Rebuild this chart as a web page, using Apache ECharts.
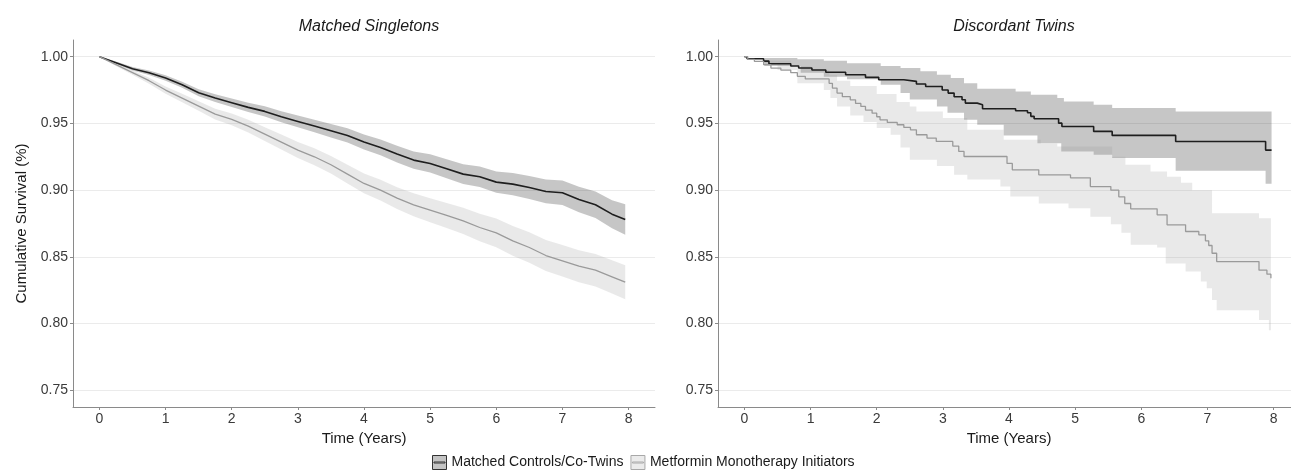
<!DOCTYPE html>
<html>
<head>
<meta charset="utf-8">
<script src="https://cdn.jsdelivr.net/npm/echarts@6/dist/echarts.min.js"></script>
<style>
html,body{margin:0;padding:0;background:#fff;overflow:hidden;width:1291px;height:472px;}
#chart{width:1302px;height:472px;}
</style>
</head>
<body>
<div id="chart"></div>
<script>
// ---------- tick labels ----------
const yearTicks = [0, 1, 2, 3, 4, 5, 6, 7, 8];
const survivalTicks = [0.75, 0.80, 0.85, 0.90, 0.95, 1.00];
const panelTitles = ['Matched Singletons', 'Discordant Twins'];
const groupNames = ['Matched Controls/Co-Twins', 'Metformin Monotherapy Initiators'];

// ---------- Matched singletons (fine-grained curves) ----------
const singletonTime = [0, 0.25, 0.5, 0.75, 1, 1.25, 1.5, 1.75, 2, 2.25, 2.5, 2.75, 3, 3.25, 3.5, 3.75, 4,
  4.25, 4.5, 4.75, 5, 5.25, 5.5, 5.75, 6, 6.25, 6.5, 6.75, 7, 7.25, 7.5, 7.75, 7.95];
const singletonControl = [1.000, 0.9955, 0.991, 0.988, 0.984, 0.979, 0.973, 0.969, 0.9655, 0.962, 0.959, 0.955,
  0.9515, 0.948, 0.9445, 0.941, 0.936, 0.932, 0.927, 0.9225, 0.920, 0.916, 0.912, 0.910, 0.906, 0.9045, 0.902,
  0.899, 0.898, 0.893, 0.889, 0.882, 0.878];
const singletonControlUpper = [1.000, 0.9963, 0.9923, 0.9897, 0.986, 0.9813, 0.9756, 0.9719, 0.9687, 0.9655, 0.9628,
  0.9591, 0.9559, 0.9527, 0.9495, 0.9463, 0.9416, 0.9379, 0.9332, 0.929, 0.9268, 0.9231, 0.9194, 0.9177, 0.914,
  0.9128, 0.9106, 0.9079, 0.9072, 0.9025, 0.8989, 0.8925, 0.8895];
const singletonControlLower = [1.000, 0.9947, 0.9897, 0.9863, 0.982, 0.9767, 0.9704, 0.9661, 0.9623, 0.9585, 0.9552,
  0.9509, 0.9471, 0.9433, 0.9395, 0.9357, 0.9304, 0.9261, 0.9208, 0.916, 0.9132, 0.9089, 0.9046, 0.9023, 0.898,
  0.8962, 0.8934, 0.8901, 0.8888, 0.8835, 0.8791, 0.8715, 0.8665];
const singletonMetformin = [1.000, 0.994, 0.988, 0.982, 0.975, 0.969, 0.963, 0.957, 0.953, 0.948, 0.942, 0.936,
  0.930, 0.925, 0.919, 0.912, 0.905, 0.900, 0.894, 0.889, 0.885, 0.881, 0.877, 0.872, 0.868, 0.862, 0.857,
  0.851, 0.847, 0.843, 0.840, 0.835, 0.831];
const singletonMetforminUpper = [1.000, 0.995, 0.9896, 0.9842, 0.9777, 0.9722, 0.9666, 0.961, 0.9574, 0.9528, 0.9472,
  0.9416, 0.936, 0.9313, 0.9256, 0.919, 0.9124, 0.9078, 0.9022, 0.8976, 0.894, 0.8904, 0.8868, 0.8823, 0.8788,
  0.8731, 0.8684, 0.8626, 0.8588, 0.855, 0.8522, 0.8474, 0.8438];
const singletonMetforminLower = [1.000, 0.993, 0.9864, 0.9798, 0.9723, 0.9658, 0.9594, 0.953, 0.9486, 0.9432, 0.9368,
  0.9304, 0.924, 0.9187, 0.9124, 0.905, 0.8976, 0.8922, 0.8858, 0.8804, 0.876, 0.8716, 0.8672, 0.8617, 0.8572,
  0.8509, 0.8456, 0.8394, 0.8352, 0.831, 0.8278, 0.8226, 0.8182];

// ---------- Discordant twins (Kaplan-Meier steps: [time, survival]) ----------
const twinControl = [[0, 1.0], [0.04, 0.9985], [0.29, 0.9967], [0.37, 0.9947], [0.7, 0.993], [0.82, 0.9915],
  [1.02, 0.990], [1.23, 0.9883], [1.53, 0.9865], [1.83, 0.9845], [2.03, 0.9827], [2.41, 0.9815], [2.6, 0.9795],
  [2.74, 0.9777], [2.99, 0.975], [3.08, 0.9727], [3.17, 0.970], [3.29, 0.9677], [3.34, 0.9652], [3.52, 0.964],
  [3.6, 0.961], [4.1, 0.9595], [4.28, 0.958], [4.33, 0.9553], [4.38, 0.9535], [4.75, 0.9502], [4.8, 0.9477],
  [5.28, 0.944], [5.56, 0.941], [6.52, 0.9365], [7.88, 0.930], [7.97, 0.930]];
const twinControlUpper = [[0, 1.0], [0.3, 0.999], [0.8, 0.998], [1.2, 0.997], [1.55, 0.995], [2.06, 0.993],
  [2.36, 0.9915], [2.66, 0.989], [2.91, 0.9865], [3.12, 0.984], [3.32, 0.980], [3.52, 0.976], [4.1, 0.974],
  [4.33, 0.9715], [4.73, 0.969], [4.83, 0.9665], [5.28, 0.964], [5.56, 0.9615], [6.52, 0.959], [7.97, 0.959]];
const twinControlLower = [[0, 1.0], [0.3, 0.993], [0.85, 0.988], [1.2, 0.985], [1.55, 0.983], [2.06, 0.979],
  [2.36, 0.9727], [2.5, 0.968], [2.91, 0.9627], [3.07, 0.958], [3.32, 0.9527], [3.52, 0.949], [3.92, 0.941],
  [4.43, 0.9352], [4.79, 0.929], [5.28, 0.9265], [5.56, 0.924], [6.52, 0.9145], [7.88, 0.9047], [7.97, 0.9047]];
const twinMetformin = [[0, 1.0], [0.05, 0.998], [0.15, 0.9965], [0.29, 0.994], [0.4, 0.9915], [0.55, 0.990],
  [0.7, 0.988], [0.8, 0.9853], [0.92, 0.9833], [1.28, 0.980], [1.33, 0.9765], [1.4, 0.9727], [1.48, 0.970],
  [1.6, 0.9677], [1.68, 0.965], [1.76, 0.9627], [1.83, 0.960], [1.93, 0.9577], [2.0, 0.955], [2.05, 0.9527],
  [2.16, 0.9507], [2.31, 0.949], [2.41, 0.947], [2.51, 0.9452], [2.6, 0.9415], [2.76, 0.939], [2.9, 0.9365],
  [3.15, 0.933], [3.24, 0.929], [3.32, 0.9252], [3.97, 0.920], [4.05, 0.9152], [4.45, 0.9115], [4.93, 0.9092],
  [5.23, 0.9027], [5.54, 0.900], [5.66, 0.895], [5.75, 0.890], [5.84, 0.886], [6.24, 0.8815], [6.39, 0.874],
  [6.67, 0.869], [6.87, 0.8665], [6.97, 0.862], [7.02, 0.8585], [7.07, 0.8527], [7.14, 0.8465], [7.78, 0.840],
  [7.9, 0.837], [7.96, 0.834]];
const twinMetforminUpper = [[0, 1.0], [0.3, 0.997], [0.7, 0.993], [1.0, 0.990], [1.28, 0.986], [1.4, 0.982],
  [1.6, 0.978], [2.0, 0.972], [2.3, 0.966], [2.5, 0.9627], [2.6, 0.959], [3.0, 0.954], [3.37, 0.9452],
  [3.92, 0.9377], [4.48, 0.935], [4.73, 0.9327], [5.56, 0.925], [5.76, 0.919], [6.14, 0.914], [6.39, 0.910],
  [6.6, 0.9055], [6.77, 0.900], [7.07, 0.8827], [7.78, 0.879], [7.96, 0.879]];
const twinMetforminLower = [[0, 1.0], [0.3, 0.995], [0.5, 0.990], [0.8, 0.980], [1.2, 0.975], [1.3, 0.969],
  [1.4, 0.9627], [1.6, 0.956], [1.8, 0.951], [2.0, 0.9465], [2.21, 0.9415], [2.36, 0.932], [2.5, 0.9227],
  [2.91, 0.918], [3.17, 0.9115], [3.37, 0.908], [3.87, 0.9027], [4.02, 0.8952], [4.45, 0.890], [4.9, 0.8865],
  [5.23, 0.880], [5.54, 0.8745], [5.7, 0.868], [5.84, 0.859], [6.24, 0.857], [6.37, 0.845], [6.67, 0.839],
  [6.9, 0.8315], [6.99, 0.8265], [7.07, 0.8177], [7.14, 0.810], [7.78, 0.8027], [7.93, 0.795], [7.96, 0.795]];

// ---------- styling ----------
const FONT = 'Liberation Sans, Arial, sans-serif';
const DARK_LINE = '#1e1e1e', LIGHT_LINE = '#9a9a9a';
const DARK_FILL = 'rgba(51,51,51,0.28)', LIGHT_FILL = 'rgba(153,153,153,0.22)';
const AXIS_GREY = '#8a8a8a';

function zipSeries(t, v) { return t.map((x, i) => [x, v[i]]); }

function bandRenderer(upper, lower, step, fill) {
  return function (params, api) {
    const pts = [];
    for (let i = 0; i < upper.length; i++) {
      pts.push(api.coord(upper[i]));
      if (step && i + 1 < upper.length) pts.push(api.coord([upper[i + 1][0], upper[i][1]]));
    }
    for (let i = lower.length - 1; i >= 0; i--) {
      pts.push(api.coord(lower[i]));
      if (step && i > 0) pts.push(api.coord([lower[i][0], lower[i - 1][1]]));
    }
    return { type: 'polygon', shape: { points: pts }, style: { fill: fill }, z2: 0 };
  };
}

const grids = [
  { left: 73, top: 40, width: 582, height: 367 },
  { left: 718, top: 40, width: 582, height: 367 }
];

function xAxisCfg(i) {
  return {
    gridIndex: i, type: 'value', min: -0.4, max: 8.4,
    name: 'Time (Years)', nameLocation: 'middle', nameGap: 22,
    nameTextStyle: { fontFamily: FONT, fontSize: 15, color: '#1a1a1a' },
    axisLine: { show: true, onZero: false, lineStyle: { color: AXIS_GREY, width: 1 } },
    axisTick: { show: true, length: 3, customValues: yearTicks, lineStyle: { color: AXIS_GREY } },
    axisLabel: { customValues: yearTicks, margin: 5, fontFamily: FONT, fontSize: 14, color: '#3a3a3a' },
    splitLine: { show: false }
  };
}
function yAxisCfg(i) {
  return {
    gridIndex: i, type: 'value', min: 0.7375, max: 1.0125,
    name: i === 0 ? 'Cumulative Survival (%)' : '', nameLocation: 'middle', nameGap: 44, nameRotate: 90,
    nameTextStyle: { fontFamily: FONT, fontSize: 15, color: '#1a1a1a' },
    axisLine: { show: true, onZero: false, lineStyle: { color: AXIS_GREY, width: 1 } },
    axisTick: { show: true, length: 3, customValues: survivalTicks, lineStyle: { color: AXIS_GREY } },
    axisLabel: { customValues: survivalTicks, margin: 5, fontFamily: FONT, fontSize: 14, color: '#3a3a3a',
      formatter: v => Number(v).toFixed(2) },
    splitLine: { show: true, lineStyle: { color: '#ebebeb', width: 1 } }
  };
}

const legendIcon = 'path://M0,0L14,0L14,14L0,14Z M1.5,7.5L12.5,7.5L12.5,6.5L1.5,6.5Z';

const option = {
  animation: false,
  backgroundColor: '#ffffff',
  title: [
    { text: panelTitles[0], left: 364, top: 14, textAlign: 'center',
      textStyle: { fontFamily: FONT, fontSize: 16, fontStyle: 'italic', fontWeight: 'normal', color: '#1a1a1a' } },
    { text: panelTitles[1], left: 1009, top: 14, textAlign: 'center',
      textStyle: { fontFamily: FONT, fontSize: 16, fontStyle: 'italic', fontWeight: 'normal', color: '#1a1a1a' } }
  ],
  legend: {
    top: 450, left: 427, itemWidth: 14, itemHeight: 14, itemGap: 7,
    textStyle: { fontFamily: FONT, fontSize: 14, color: '#1a1a1a' },
    data: [
      { name: groupNames[0], icon: legendIcon, itemStyle: { color: '#c4c4c4', borderColor: '#333333', borderWidth: 1 } },
      { name: groupNames[1], icon: legendIcon, itemStyle: { color: '#ebebeb', borderColor: '#a8a8a8', borderWidth: 1 } }
    ],
    selectedMode: false
  },
  grid: grids,
  xAxis: [xAxisCfg(0), xAxisCfg(1)],
  yAxis: [yAxisCfg(0), yAxisCfg(1)],
  series: [
    // left bands
    { type: 'custom', name: groupNames[0], xAxisIndex: 0, yAxisIndex: 0, data: [0], z: 1, silent: true,
      renderItem: bandRenderer(zipSeries(singletonTime, singletonControlUpper), zipSeries(singletonTime, singletonControlLower), false, DARK_FILL) },
    { type: 'custom', name: groupNames[1], xAxisIndex: 0, yAxisIndex: 0, data: [0], z: 1, silent: true,
      renderItem: bandRenderer(zipSeries(singletonTime, singletonMetforminUpper), zipSeries(singletonTime, singletonMetforminLower), false, LIGHT_FILL) },
    // right bands
    { type: 'custom', name: groupNames[0], xAxisIndex: 1, yAxisIndex: 1, data: [0], z: 1, silent: true,
      renderItem: bandRenderer(twinControlUpper, twinControlLower, true, DARK_FILL) },
    { type: 'custom', name: groupNames[1], xAxisIndex: 1, yAxisIndex: 1, data: [0], z: 1, silent: true,
      renderItem: bandRenderer(twinMetforminUpper, twinMetforminLower, true, LIGHT_FILL) },
    // left lines
    { type: 'line', name: groupNames[0], xAxisIndex: 0, yAxisIndex: 0, data: zipSeries(singletonTime, singletonControl),
      showSymbol: false, z: 3, lineStyle: { color: DARK_LINE, width: 1.6 }, itemStyle: { color: DARK_LINE } },
    { type: 'line', name: groupNames[1], xAxisIndex: 0, yAxisIndex: 0, data: zipSeries(singletonTime, singletonMetformin),
      showSymbol: false, z: 3, lineStyle: { color: LIGHT_LINE, width: 1.3 }, itemStyle: { color: LIGHT_LINE } },
    // right lines (step: horizontal first, drop at next event time)
    { type: 'line', name: groupNames[0], xAxisIndex: 1, yAxisIndex: 1, data: twinControl, step: 'end',
      showSymbol: false, z: 3, lineStyle: { color: DARK_LINE, width: 1.6 }, itemStyle: { color: DARK_LINE } },
    { type: 'line', name: groupNames[1], xAxisIndex: 1, yAxisIndex: 1, data: twinMetformin, step: 'end',
      showSymbol: false, z: 3, lineStyle: { color: LIGHT_LINE, width: 1.3 }, itemStyle: { color: LIGHT_LINE } }
  ]
};

const chart = echarts.init(document.getElementById('chart'), null, { renderer: 'canvas' });
chart.setOption(option);
</script>
</body>
</html>
